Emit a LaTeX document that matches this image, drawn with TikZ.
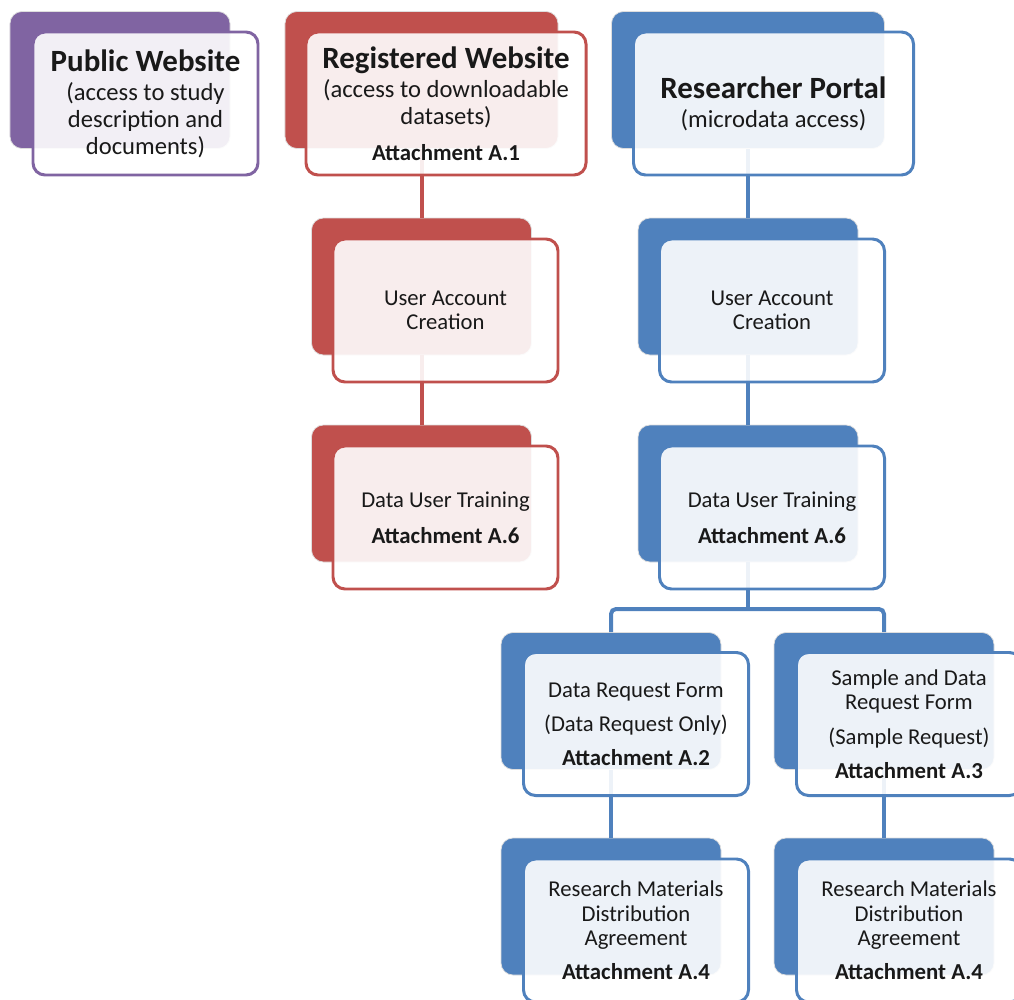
\documentclass[tikz,border=0pt]{standalone}
\usepackage{fontspec}
\setmainfont{Carlito}
\definecolor{pubpurple}{HTML}{8064A2}
\definecolor{regred}{HTML}{C0504D}
\definecolor{resblue}{HTML}{4F81BD}
\newcommand\boxtitle{\fontsize{17.6}{18}\bfseries\selectfont}
\newcommand\boxsub{\fontsize{14}{14}\selectfont}
\newcommand\boxbody{\fontsize{12.9}{13.9}\selectfont}
\newcommand\boxatt{\fontsize{13}{13.9}\bfseries\selectfont}
\begin{document}
\begin{tikzpicture}[x=0.2mm, y=-0.2mm,
	backbox/.style={draw=black!13, line width=0.4pt, rounded corners=2.4mm, inner sep=0pt,
		minimum width=44mm, minimum height=27.4mm},
	frontbox/.style={fill=white, fill opacity=0.9, text opacity=1, line width=1.7pt,
		rounded corners=2.4mm, inner sep=0pt, minimum width=45mm, minimum height=28.6mm,
		align=center, font=\boxbody, text=black!90},
	wide/.style={minimum width=54.6mm},
	widefront/.style={minimum width=56mm},
	link/.style={line width=0.8mm, rounded corners=1mm}]
	\useasboundingbox (0,0) rectangle (1014,1000);
	\clip (0,0) rectangle (1014,1000);
	% back boxes
	\node[backbox, fill=pubpurple] (pb) at (120,80) {};
	\node[backbox, wide, fill=regred] (rb) at (421.5,80) {};
	\node[backbox, wide, fill=resblue] (sb) at (748,80) {};
	\node[backbox, fill=regred] (ru) at (421.5,286.5) {};
	\node[backbox, fill=regred] (rt) at (421.5,493.5) {};
	\node[backbox, fill=resblue] (su) at (748,286.5) {};
	\node[backbox, fill=resblue] (st) at (748,493.5) {};
	\node[backbox, fill=resblue] (dq) at (611,701) {};
	\node[backbox, fill=resblue] (sq) at (884,701) {};
	\node[backbox, fill=resblue] (da) at (611,906.5) {};
	\node[backbox, fill=resblue] (sa) at (884,906.5) {};
	% connectors
	\coordinate (fork) at (748,609);
	\draw[link, regred] (rb) -- (ru);
	\draw[link, regred] (ru) -- (rt);
	\draw[link, resblue] (sb) -- (su);
	\draw[link, resblue] (su) -- (st);
	\draw[link, resblue] (st) -- (fork);
	\draw[link, resblue] (dq.north) |- (fork) -| (sq.north);
	\draw[link, resblue] (dq) -- (da);
	\draw[link, resblue] (sq) -- (sa);
	% front boxes
	\node[frontbox, draw=pubpurple] (pf) at ([shift={(25.5,23.5)}]pb) {%
		{\boxtitle Public Website}\\[3pt]
		{\boxsub (access to study}\\[1.3pt]
		{\boxsub description and}\\[1.3pt]
		{\boxsub documents)}};
	\node[frontbox, widefront, draw=regred] (rf) at ([shift={(24.5,23.5)}]rb) {%
		{\boxtitle Registered Website}\\[3pt]
		{\boxsub (access to downloadable}\\[1.3pt]
		{\boxsub datasets)}\\[6.5pt]
		{\boxatt Attachment A.1}};
	\node[frontbox, widefront, draw=resblue] (sf) at ([shift={(25.5,23.5)}]sb) {%
		{\boxtitle Researcher Portal}\\[2.7pt]
		{\boxsub (microdata access)}};
	\node[frontbox, draw=regred] (ruf) at ([shift={(24,24)}]ru) {%
		User Account\\Creation};
	\node[frontbox, draw=regred] (rtf) at ([shift={(24,24)}]rt) {%
		Data User Training\\[6.5pt]
		{\boxatt Attachment A.6}};
	\node[frontbox, draw=resblue] (suf) at ([shift={(24,24)}]su) {%
		User Account\\Creation};
	\node[frontbox, draw=resblue] (stf) at ([shift={(24,24)}]st) {%
		Data User Training\\[6.5pt]
		{\boxatt Attachment A.6}};
	\node[frontbox, draw=resblue] (dqf) at ([shift={(25,23)}]dq) {%
		Data Request Form\\[5.5pt]
		(Data Request Only)\\[5.5pt]
		{\boxatt Attachment A.2}};
	\node[frontbox, draw=resblue] (sqf) at ([shift={(25,23)}]sq) {%
		Sample and Data\\
		Request Form\\[5.5pt]
		(Sample Request)\\[5.5pt]
		{\boxatt Attachment A.3}};
	\node[frontbox, draw=resblue] (daf) at ([shift={(25,24)}]da) {%
		Research Materials\\
		Distribution\\
		Agreement\\[5.5pt]
		{\boxatt Attachment A.4}};
	\node[frontbox, draw=resblue] (saf) at ([shift={(25,24)}]sa) {%
		Research Materials\\
		Distribution\\
		Agreement\\[5.5pt]
		{\boxatt Attachment A.4}};
\end{tikzpicture}
\end{document}
